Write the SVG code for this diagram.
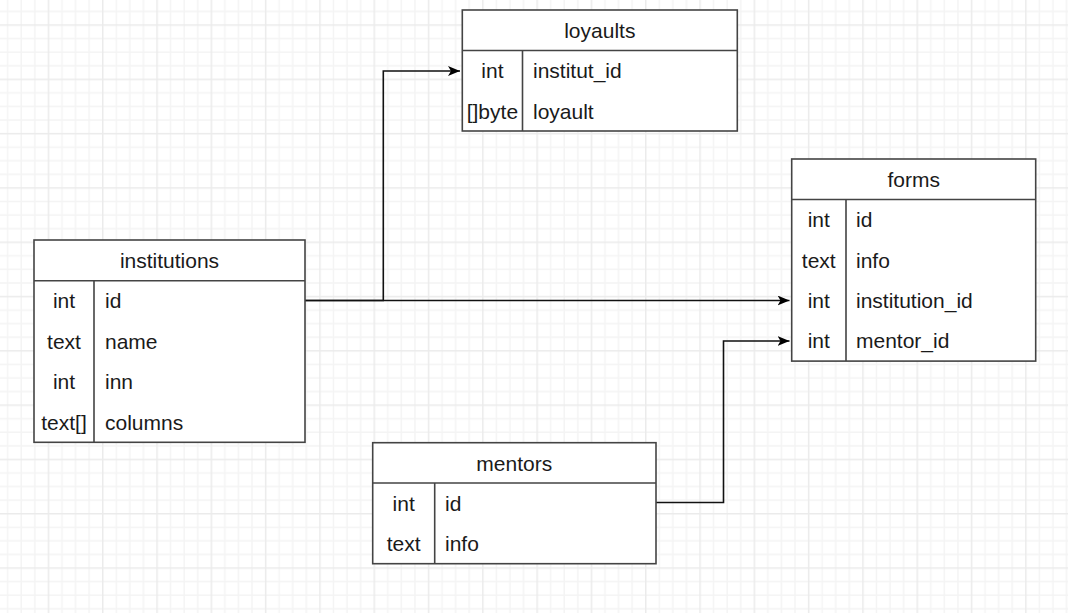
<svg xmlns="http://www.w3.org/2000/svg" width="1068" height="613" viewBox="0 0 1068 613">
<defs>
<pattern id="grid" x="-6.6" y="-30" width="54.3" height="54.3" patternUnits="userSpaceOnUse">
<path d="M14.3 0V54.3M27.9 0V54.3M41.4 0V54.3M0 14.3H54.3M0 27.9H54.3M0 41.4H54.3" stroke="#f4f4f4" stroke-width="1.5" fill="none"/>
<path d="M0.75 0V54.3M0 0.75H54.3" stroke="#ebebeb" stroke-width="1.5" fill="none"/>
</pattern>
<marker id="arrow" viewBox="0 0 12 10" refX="12" refY="5" markerWidth="12" markerHeight="10" markerUnits="userSpaceOnUse" orient="auto">
<path d="M0 0L12 5L0 10L3 5Z" fill="#000"/>
</marker>
<style>
.box{fill:#fff;stroke:#444;stroke-width:1.6}
.ln{stroke:#444;stroke-width:1.6;fill:none}
.t{font-family:"Liberation Sans",Arial,sans-serif;font-size:21px;fill:#1a1a1a}
.c{text-anchor:middle}
.conn{stroke:#111;stroke-width:1.6;fill:none}
</style>
</defs>
<rect width="1068" height="613" fill="#fff"/>
<rect width="1068" height="613" fill="url(#grid)"/>

<g id="connectors">
<path class="conn" d="M305 300.5H383.3V71H460" marker-end="url(#arrow)"/>
<path class="conn" d="M305 300.5H789.5" marker-end="url(#arrow)"/>
<path class="conn" d="M656 502.5H723.5V341H789.5" marker-end="url(#arrow)"/>
</g>

<g id="loyaults">
<rect class="box" x="462.3" y="10" width="275" height="121"/>
<path class="ln" d="M462.3 50.5H737.3M522.5 50.5V131"/>
<text class="t c" x="599.8" y="38">loyaults</text>
<text class="t c" x="492.4" y="78.3">int</text>
<text class="t" x="533" y="78.3">institut_id</text>
<text class="t c" x="492.4" y="118.5">[]byte</text>
<text class="t" x="533" y="118.5">loyault</text>
</g>

<g id="institutions">
<rect class="box" x="34" y="240" width="271" height="202.3"/>
<path class="ln" d="M34 280.7H305M94 280.7V442.3"/>
<text class="t c" x="169.5" y="268">institutions</text>
<text class="t c" x="64" y="308.3">int</text>
<text class="t" x="105" y="308.3">id</text>
<text class="t c" x="64" y="348.7">text</text>
<text class="t" x="105" y="348.7">name</text>
<text class="t c" x="64" y="389.1">int</text>
<text class="t" x="105" y="389.1">inn</text>
<text class="t c" x="64" y="429.5">text[]</text>
<text class="t" x="105" y="429.5">columns</text>
</g>

<g id="forms">
<rect class="box" x="791.7" y="159" width="244" height="202.1"/>
<path class="ln" d="M791.7 199.5H1035.7M846 199.5V361.1"/>
<text class="t c" x="913.7" y="187">forms</text>
<text class="t c" x="818.8" y="227.1">int</text>
<text class="t" x="856" y="227.1">id</text>
<text class="t c" x="818.8" y="267.5">text</text>
<text class="t" x="856" y="267.5">info</text>
<text class="t c" x="818.8" y="307.9">int</text>
<text class="t" x="856" y="307.9">institution_id</text>
<text class="t c" x="818.8" y="348.3">int</text>
<text class="t" x="856" y="348.3">mentor_id</text>
</g>

<g id="mentors">
<rect class="box" x="372.7" y="442.7" width="283.3" height="121"/>
<path class="ln" d="M372.7 483H656M434.7 483V563.7"/>
<text class="t c" x="514.3" y="470.7">mentors</text>
<text class="t c" x="403.7" y="510.6">int</text>
<text class="t" x="445" y="510.6">id</text>
<text class="t c" x="403.7" y="550.9">text</text>
<text class="t" x="445" y="550.9">info</text>
</g>
</svg>
